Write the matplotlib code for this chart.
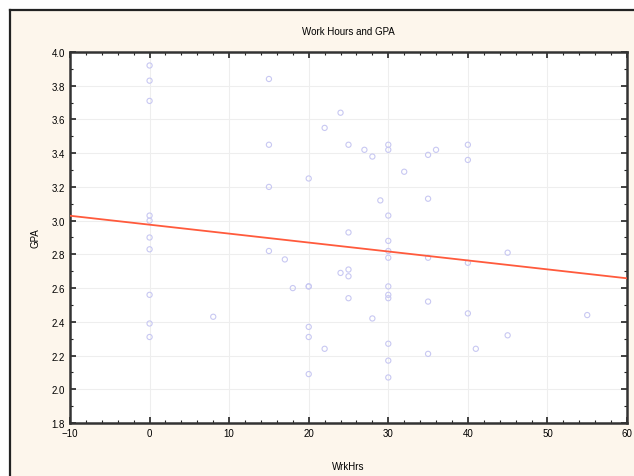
import matplotlib
matplotlib.use("Agg")
import matplotlib.pyplot as plt
import numpy as np
from matplotlib.lines import Line2D
from matplotlib.patches import Rectangle
from matplotlib.ticker import MultipleLocator, FormatStrFormatter

# work hours per week and GPA
wrk_hrs = [0, 0, 0, 0, 0, 0, 0, 0, 0, 0, 8,
           15, 15, 15, 15, 17, 18, 20, 20, 20, 20, 20, 20,
           22, 22, 24, 24, 25, 25, 25, 25, 25, 27, 28, 28,
           29, 30, 30, 30, 30, 30, 30, 30, 30, 30, 30, 30, 30,
           32, 35, 35, 35, 35, 35, 36,
           40, 40, 40, 40, 41, 45, 45, 55]
gpa = [3.92, 3.83, 3.71, 3.03, 3.00, 2.90, 2.83, 2.56, 2.39, 2.31, 2.43,
       3.84, 3.45, 3.20, 2.82, 2.77, 2.60, 3.25, 2.61, 2.37, 2.31, 2.09, 2.61,
       3.55, 2.24, 3.64, 2.69, 3.45, 2.93, 2.71, 2.67, 2.54, 3.42, 3.38, 2.42,
       3.12, 3.45, 3.42, 3.03, 2.88, 2.82, 2.78, 2.61, 2.56, 2.54, 2.27, 2.17, 2.07,
       3.29, 3.39, 3.13, 2.52, 2.21, 2.78, 3.42,
       3.45, 3.36, 2.75, 2.45, 2.24, 2.81, 2.32, 2.44]

# fitted line shown in the chart
fit_intercept = 2.976
fit_slope = -0.0053

plt.rcParams['font.family'] = 'Liberation Sans'
fig = plt.figure(figsize=(6.34, 4.77), dpi=100)
fig.patch.set_facecolor('white')

# cream panel with a dark frame on the left and top only
left = 10 / 634
top = 1 - 11 / 477
fig.patches.append(Rectangle((left, 0), 1 - left, top, transform=fig.transFigure,
                             facecolor='#fdf6ec', edgecolor='none', zorder=-2))
fig.lines.append(Line2D([left, left], [0, top], transform=fig.transFigure,
                        color='#222222', linewidth=1.6))
fig.lines.append(Line2D([left, 1], [top, top], transform=fig.transFigure,
                        color='#222222', linewidth=1.6))

ax = fig.add_axes([70 / 634, 1 - 424 / 477, 557 / 634, 371 / 477])
ax.set_facecolor('white')

ax.scatter(wrk_hrs, gpa, s=14, facecolors='none', edgecolors='#c8c8f2',
           linewidths=0.8, zorder=3)

xs = np.array([-10, 60])
ax.plot(xs, fit_intercept + fit_slope * xs, color='#ff5a3c', linewidth=1.3, zorder=4)

ax.set_xlim(-10, 60)
ax.set_ylim(1.8, 4.0)
ax.xaxis.set_major_locator(MultipleLocator(10))
ax.xaxis.set_minor_locator(MultipleLocator(2))
ax.yaxis.set_major_locator(MultipleLocator(0.2))
ax.yaxis.set_minor_locator(MultipleLocator(0.1))
ax.yaxis.set_major_formatter(FormatStrFormatter('%.1f'))
ax.tick_params(which='both', direction='in', top=True, right=True,
               labelsize=7, color='#222222')
ax.tick_params(which='major', length=4, width=1.2)
ax.tick_params(which='minor', length=2.5, width=0.8)
ax.grid(True, which='major', color='#eeeeee', linewidth=0.8, zorder=0)
for sp in ax.spines.values():
    sp.set_linewidth(1.8)
    sp.set_color('#333333')

ax.set_title('Work Hours and GPA', fontsize=7, pad=13)
ax.set_xlabel('WrkHrs', fontsize=7, labelpad=17)
ax.set_ylabel('GPA', fontsize=7, labelpad=8)

fig.savefig('out.png', dpi=100)
